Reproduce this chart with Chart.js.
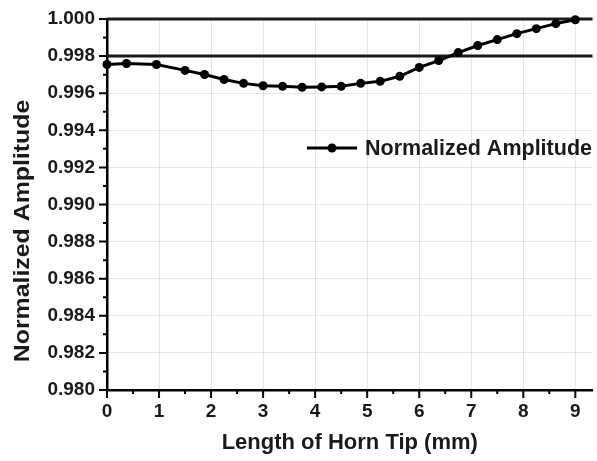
<!DOCTYPE html>
<html>
<head>
<meta charset="utf-8">
<script src="https://cdn.jsdelivr.net/npm/chart.js@4.4.1/dist/chart.umd.min.js"></script>
<style>
  html, body { margin: 0; padding: 0; background: #fff; }
  canvas { display: block; }
</style>
</head>
<body>
<canvas id="amplitudeChart" width="597" height="461"></canvas>
<script>
// horn tip length (mm) and normalized amplitude
const lengths = [0, 0.375, 0.95, 1.5, 1.875, 2.25, 2.625, 3.0, 3.375, 3.75, 4.125, 4.5,
                 4.875, 5.25, 5.625, 6.0, 6.375, 6.75, 7.125, 7.5, 7.875, 8.25, 8.625, 9.0];
const amplitudes = [0.99755, 0.9976, 0.99755, 0.99723, 0.99701, 0.99674, 0.99653, 0.9964,
                    0.99637, 0.99632, 0.99634, 0.99637, 0.99653, 0.99664, 0.99691, 0.99739,
                    0.99776, 0.99819, 0.99857, 0.99889, 0.99921, 0.99948, 0.99975, 0.99996];
const xTicks = [0, 1, 2, 3, 4, 5, 6, 7, 8, 9];
const yTicks = [0.980, 0.982, 0.984, 0.986, 0.988, 0.990, 0.992, 0.994, 0.996, 0.998, 1.000];
const refLevel = 0.998;

const seriesName = 'Normalized Amplitude';
const xTitle = 'Length of Horn Tip (mm)';
const yTitle = 'Normalized Amplitude';

const FONT = "Arial, 'Liberation Sans', sans-serif";
Chart.defaults.font.family = FONT;
Chart.defaults.color = '#111';

// top frame line and the 0.998 reference line
const frameLines = {
    id: 'frameLines',
    beforeDatasetsDraw(chart) {
        const {ctx, chartArea: a, scales: {y}} = chart;
        ctx.save();
        ctx.strokeStyle = '#1a1a1a';
        ctx.lineWidth = 3;
        ctx.beginPath();
        ctx.moveTo(a.left, a.top);
        ctx.lineTo(a.right, a.top);
        const ry = y.getPixelForValue(refLevel);
        ctx.moveTo(a.left, ry);
        ctx.lineTo(a.right, ry);
        ctx.stroke();
        ctx.restore();
    }
};

// outward major / minor tick marks
const tickMarks = {
    id: 'tickMarks',
    afterDraw(chart) {
        const {ctx, chartArea: a, scales: {x, y}} = chart;
        ctx.save();
        ctx.strokeStyle = '#000';
        ctx.lineWidth = 2;
        ctx.beginPath();
        xTicks.forEach(v => {
            const px = x.getPixelForValue(v);
            ctx.moveTo(px, a.bottom);
            ctx.lineTo(px, a.bottom + 8);
            if (v + 0.5 <= x.max) {
                const mx = x.getPixelForValue(v + 0.5);
                ctx.moveTo(mx, a.bottom);
                ctx.lineTo(mx, a.bottom + 4);
            }
        });
        yTicks.forEach((v, i) => {
            const py = y.getPixelForValue(v);
            ctx.moveTo(a.left, py);
            ctx.lineTo(a.left - 8, py);
            if (i < yTicks.length - 1) {
                const my = y.getPixelForValue((v + yTicks[i + 1]) / 2);
                ctx.moveTo(a.left, my);
                ctx.lineTo(a.left - 4, my);
            }
        });
        ctx.stroke();
        ctx.restore();
    }
};

// legend inside the plot and the rotated y title
const annotations = {
    id: 'annotations',
    afterDraw(chart) {
        const {ctx} = chart;
        ctx.save();
        ctx.strokeStyle = '#000';
        ctx.fillStyle = '#000';
        ctx.lineWidth = 3;
        ctx.beginPath();
        ctx.moveTo(307, 148);
        ctx.lineTo(357, 148);
        ctx.stroke();
        ctx.beginPath();
        ctx.arc(332, 148, 4.5, 0, Math.PI * 2);
        ctx.fill();
        ctx.fillStyle = '#1a1a1a';
        ctx.font = 'bold 21.5px ' + FONT;
        ctx.textBaseline = 'middle';
        ctx.textAlign = 'left';
        ctx.fillText(seriesName, 365, 149);

        ctx.translate(23, 231);
        ctx.rotate(-Math.PI / 2);
        ctx.scale(1.13, 1);
        ctx.font = 'bold 22px ' + FONT;
        ctx.textAlign = 'center';
        ctx.fillText(yTitle, 0, 0);
        ctx.restore();
    }
};

new Chart(document.getElementById('amplitudeChart'), {
    type: 'line',
    data: {
        datasets: [{
            label: seriesName,
            data: lengths.map((v, i) => ({x: v, y: amplitudes[i]})),
            borderColor: '#000',
            backgroundColor: '#000',
            borderWidth: 3,
            pointRadius: 4.5,
            pointBackgroundColor: '#000',
            pointBorderWidth: 0,
            tension: 0,
            clip: false
        }]
    },
    options: {
        responsive: false,
        animation: false,
        devicePixelRatio: 1,
        layout: { padding: {top: 19, right: 0, left: 0, bottom: 0} },
        plugins: {
            legend: { display: false },
            tooltip: { enabled: false }
        },
        scales: {
            x: {
                type: 'linear',
                min: 0,
                max: 9.33,
                afterBuildTicks: scale => { scale.ticks = xTicks.map(v => ({value: v})); },
                afterFit: scale => {
                    scale.height = 71;
                    scale.paddingLeft = 0;
                    scale.paddingRight = 0;
                },
                ticks: {
                    padding: 10,
                    font: { size: 19, weight: 'bold' },
                    color: '#1a1a1a',
                    callback: v => String(v)
                },
                grid: { color: 'rgba(0,0,0,0.1)', lineWidth: 1, drawTicks: false },
                border: { color: '#000', width: 2.5 },
                title: {
                    display: true,
                    text: xTitle,
                    font: { size: 22, weight: 'bold' },
                    color: '#1a1a1a',
                    padding: { top: 0, bottom: 5 }
                }
            },
            y: {
                min: 0.98,
                max: 1.0,
                afterBuildTicks: scale => { scale.ticks = yTicks.map(v => ({value: v})); },
                afterFit: scale => {
                    scale.width = 107;
                    scale.paddingTop = 0;
                    scale.paddingBottom = 0;
                },
                ticks: {
                    padding: 12,
                    font: { size: 19, weight: 'bold' },
                    color: '#1a1a1a',
                    callback: v => v.toFixed(3)
                },
                grid: { color: 'rgba(0,0,0,0.1)', lineWidth: 1, drawTicks: false },
                border: { color: '#000', width: 2.5 }
            }
        }
    },
    plugins: [frameLines, tickMarks, annotations]
});
</script>
</body>
</html>
